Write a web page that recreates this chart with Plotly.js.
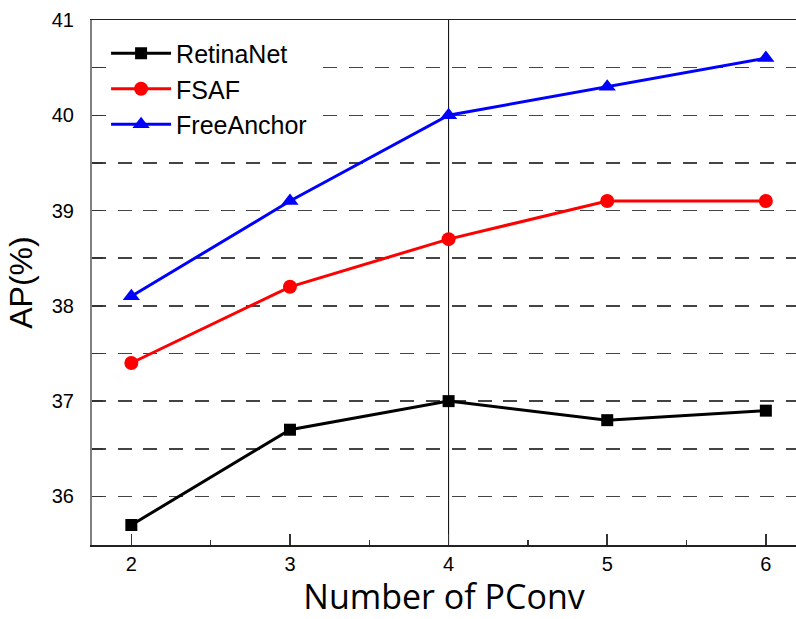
<!DOCTYPE html>
<html>
<head>
<meta charset="utf-8">
<script src="https://cdn.plot.ly/plotly-3.0.1.min.js"></script>
<style>html,body{margin:0;padding:0;background:#fff;}#chart{width:796px;height:619px;}</style>
</head>
<body>
<div id="chart"></div>
<script>
const pconv = [2, 3, 4, 5, 6];
const retinanet = [35.7, 36.7, 37.0, 36.8, 36.9];
const fsaf = [37.4, 38.2, 38.7, 39.1, 39.1];
const freeanchor = [38.1, 39.1, 40.0, 40.3, 40.6];
const seriesNames = ['RetinaNet', 'FSAF', 'FreeAnchor'];
const yGridVals = [35.5, 36, 36.5, 37, 37.5, 38, 38.5, 39, 39.5, 40, 40.5, 41];
const yTickLabels = ['', '36', '', '37', '', '38', '', '39', '', '40', '', '41'];
const markedX = 4;

const FONT = 'Liberation Sans, Arial, sans-serif';
const TITLE_FONT = 'Open Sans, Noto Sans, sans-serif';

const traces = [
  {x: pconv, y: retinanet, name: seriesNames[0], mode: 'lines+markers',
   line: {color: '#000000', width: 3}, marker: {symbol: 'square', size: 12, color: '#000000'}},
  {x: pconv, y: fsaf, name: seriesNames[1], mode: 'lines+markers',
   line: {color: '#ff0000', width: 3}, marker: {symbol: 'circle', size: 14, color: '#ff0000'}},
  {x: pconv, y: freeanchor, name: seriesNames[2], mode: 'lines+markers',
   line: {color: '#0000ff', width: 3}, marker: {symbol: 'triangle-up', size: 15, color: '#0000ff'}}
];

const layout = {
  width: 796, height: 619,
  margin: {l: 92, r: 0, t: 20, b: 74},
  paper_bgcolor: '#ffffff', plot_bgcolor: '#ffffff',
  font: {family: FONT, color: '#000'},
  showlegend: true,
  legend: {x: 0.02, y: 0.98, xanchor: 'left', yanchor: 'top', itemwidth: 60,
    bgcolor: '#ffffff', borderwidth: 0, font: {size: 25, family: FONT}, tracegroupgap: 0},
  xaxis: {
    range: [1.752, 6.19], tickvals: pconv, ticktext: pconv.map(String),
    ticks: 'inside', ticklen: 11, tickwidth: 1.5, tickcolor: '#333',
    minor: {dtick: 0.5, ticks: 'inside', ticklen: 5, tickwidth: 1.5, tickcolor: '#333', showgrid: false},
    showline: true, linecolor: '#222', linewidth: 1.5, mirror: true,
    showgrid: false, zeroline: false,
    tickfont: {size: 20, family: FONT},
    title: {text: 'Number of PConv', font: {size: 34, family: TITLE_FONT}, standoff: 30}
  },
  yaxis: {
    range: [35.49, 41.0], tickvals: yGridVals, ticktext: yTickLabels,
    ticks: 'inside', ticklen: 11, tickwidth: 1.5, tickcolor: '#333',
    showline: true, linecolor: '#808080', linewidth: 2,
    showgrid: true, gridcolor: '#444', gridwidth: 1.5, griddash: '14px,11.7px',
    zeroline: false, ticklabelstandoff: 12,
    tickfont: {size: 20, family: FONT},
    title: {text: 'AP(%)', font: {size: 32, family: FONT}, standoff: 10}
  },
  shapes: [
    {type: 'line', xref: 'x', yref: 'paper', x0: markedX, x1: markedX, y0: 0, y1: 1,
     line: {color: '#000', width: 1}, layer: 'below'}
  ]
};

Plotly.newPlot('chart', traces, layout, {displayModeBar: false, staticPlot: true});
</script>
</body>
</html>
